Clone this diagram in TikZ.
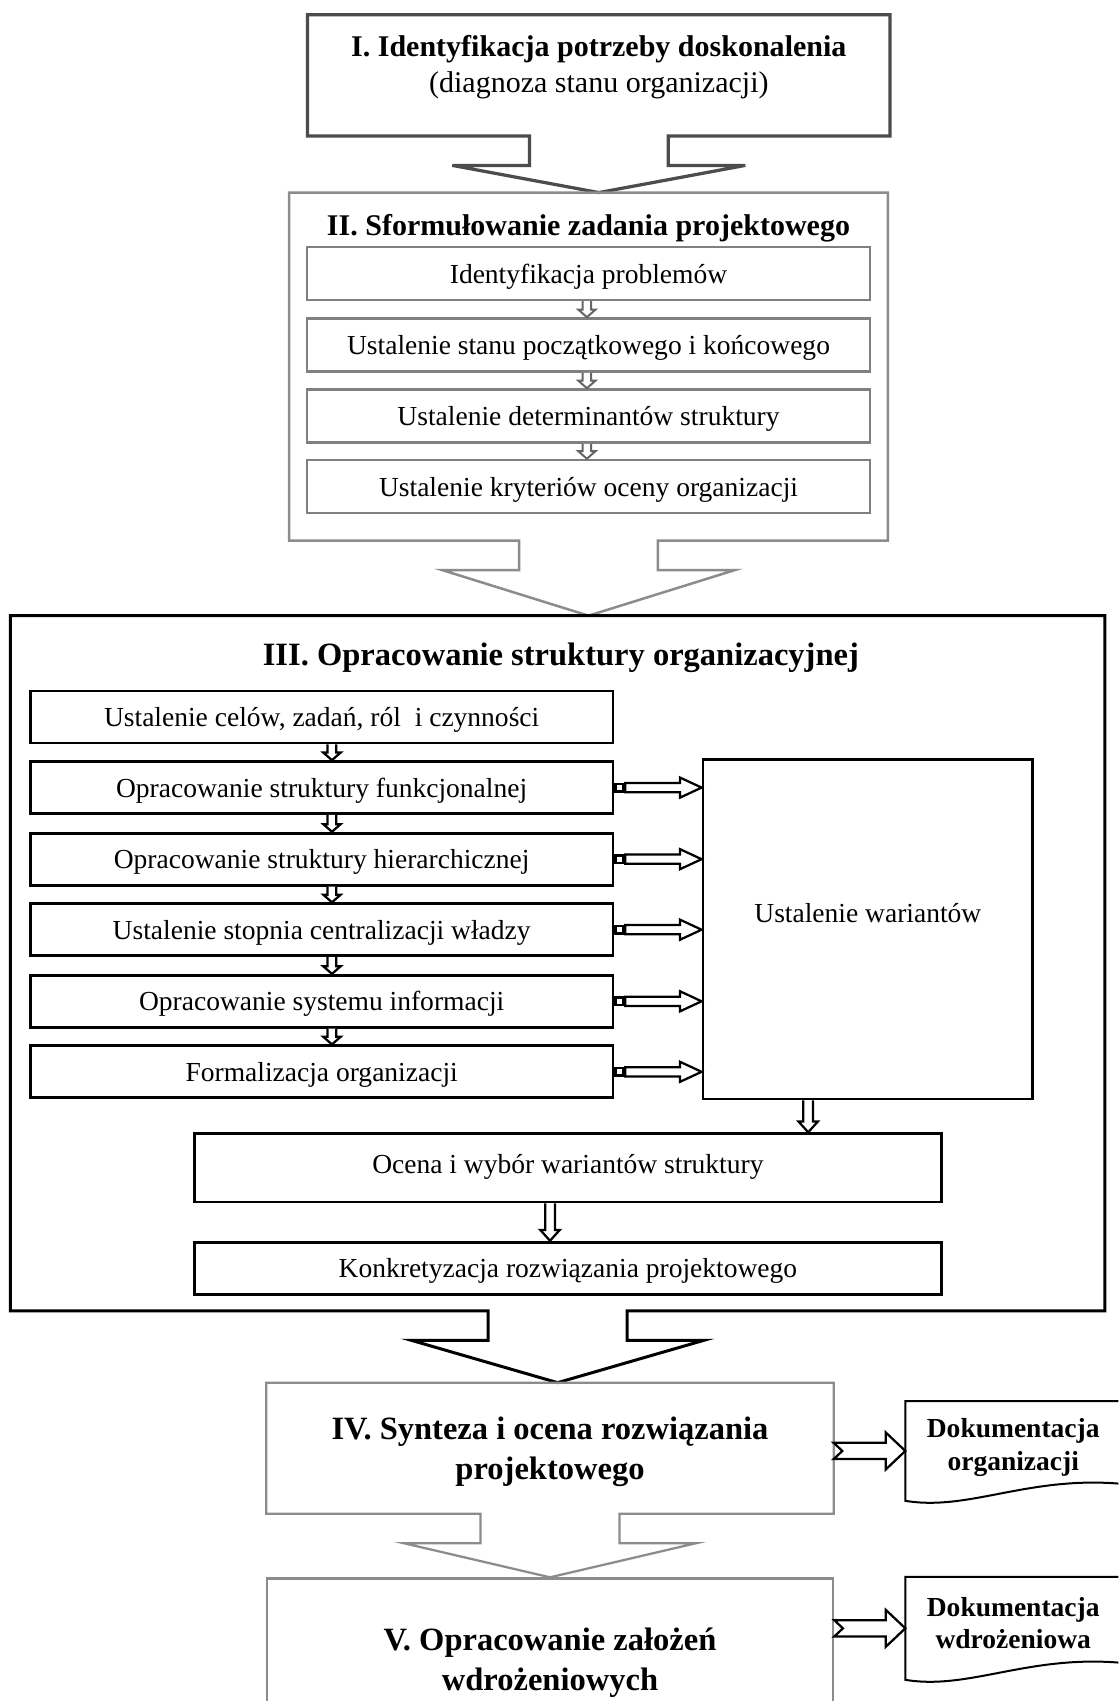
\documentclass[tikz,border=0pt]{standalone}
\usepackage{fontspec}
\setmainfont{Liberation Serif}
\usetikzlibrary{calc}

\begin{document}
\begin{tikzpicture}[x=0.4337pt, y=-0.4337pt, line join=miter,
  pole/.style={rectangle, inner sep=0pt},
  ramaI/.style={draw=black!70, line width=1.3pt},
  ramaII/.style={draw=black!45, line width=1pt},
  ramaIII/.style={draw=black, line width=1.2pt},
  ramaIV/.style={draw=black!45, line width=0.9pt},
  krok/.style={pole, draw=black!50, line width=1pt},
  etap/.style={pole, draw=black, line width=1.1pt},
  strzII/.style={draw=black!60, line width=0.8pt, fill=white},
  strz/.style={draw=black, line width=0.9pt, fill=white},
  dok/.style={draw=black, line width=0.8pt},
  tytul/.style={font=\fontsize{12}{14.3}\selectfont\bfseries},
  duzy/.style={font=\fontsize{13}{16}\selectfont\bfseries, align=center},
  opis/.style={font=\fontsize{11}{13}\selectfont, text depth=0pt},
  dokt/.style={font=\fontsize{11}{13}\selectfont\bfseries, align=center}]

  % rozmiar obrazu (1 jednostka = 1 piksel)
  \def\px{0.4337pt}
  \useasboundingbox (0,0) rectangle (1031,1568);
  \fill[white] (0,0) rectangle (1031,1568);
  \clip (0,0) rectangle (1031,1568);

  % etap I
  \node[pole, minimum width=536*\px, minimum height=111*\px] (boxI) at (552,69.5) {};
  \node[align=center, font=\fontsize{12}{14.3}\selectfont] (tekstI) at (552,62)
    {\textbf{I. Identyfikacja potrzeby doskonalenia}\\(diagnoza stanu organizacji)};

  % etap II
  \node[pole, minimum width=551*\px, minimum height=320*\px] (boxII) at (542.5,338) {};
  \node[tytul] (tekstII) at (542.5,210) {II. Sformułowanie zadania projektowego};
  \foreach \i/\y/\t in {1/252/Identyfikacja problemów,
                        2/318/Ustalenie stanu początkowego i końcowego,
                        3/383.5/Ustalenie determinantów struktury,
                        4/448.5/Ustalenie kryteriów oceny organizacji}
    \node[krok, opis, minimum width=519*\px, minimum height=49*\px] (s\i) at (542.5,\y) {\t};

  % etap III
  \node[pole, minimum width=1008*\px, minimum height=640*\px] (boxIII) at (514,888) {};
  \node[font=\fontsize{13}{15}\selectfont\bfseries] (tekstIII) at (517,606)
    {III. Opracowanie struktury organizacyjnej};
  \foreach \i/\y/\t in {1/661/{Ustalenie celów, zadań, ról\ \ i czynności},
                        2/726/Opracowanie struktury funkcjonalnej,
                        3/792/Opracowanie struktury hierarchicznej,
                        4/857/Ustalenie stopnia centralizacji władzy,
                        5/923/Opracowanie systemu informacji,
                        6/988/Formalizacja organizacji}
    \node[etap, opis, minimum width=537*\px, minimum height=48*\px] (e\i) at (296.5,\y) {\t};
  \node[etap, minimum width=304*\px, minimum height=313*\px] (war) at (800,856.5) {};
  \node[opis] (tekstwar) at (800,842) {Ustalenie wariantów};
  \node[etap, minimum width=689*\px, minimum height=63*\px] (ocena) at (523.5,1076.5) {};
  \node[opis] (tekstocena) at (523.5,1073) {Ocena i wybór wariantów struktury};
  \node[etap, opis, minimum width=689*\px, minimum height=48*\px] (konkr) at (523.5,1169)
    {Konkretyzacja rozwiązania projektowego};

  % etapy IV i V
  \node[pole, minimum width=522*\px, minimum height=120*\px] (boxIV) at (507,1335) {};
  \node[duzy] (tekstIV) at (507,1338.5) {IV. Synteza i ocena rozwiązania\\projektowego};
  \node[pole, ramaIV, minimum width=522*\px, minimum height=150*\px] (boxV) at (507,1530) {};
  \node[duzy] (tekstV) at (507,1533) {V. Opracowanie założeń\\wdrożeniowych};

  % dokumenty
  \node[pole, minimum width=205*\px, minimum height=91*\px] (d1) at (937.5,1337.5) {};
  \node[dokt] (tekstd1) at (934,1334.5) {Dokumentacja\\organizacji};
  \node[pole, minimum width=205*\px, minimum height=94*\px] (d2) at (937.5,1501) {};
  \node[dokt] (tekstd2) at (934,1496) {Dokumentacja\\wdrożeniowa};
  \foreach \d in {d1,d2}
    \draw[dok] ($(\d.south east)+(0,-15)$) -- (\d.north east) -- (\d.north west)
      -- (\d.south west) .. controls ($(\d.south west)+(60,10)$) and ($(\d.south east)+(-90,-25)$)
      .. ($(\d.south east)+(0,-15)$);

  % ramki z grubymi strzalkami w dol
  \foreach \a/\b/\st in {boxI/boxII/ramaI, boxII/boxIII/ramaII,
                         boxIII/boxIV/ramaIII, boxIV/boxV/ramaIV}
    \draw[\st] (\a.south west) -- (\a.north west) -- (\a.north east) -- (\a.south east)
      -- ($(\a.south)+(64,0)$) -- ++(0,27) -- ++(71,0) -- (\a.south |- \b.north)
      -- ($(\a.south)+(-135,27)$) -- ++(71,0) -- ++(0,-27) -- cycle;

  % male strzalki
  \coordinate (osII) at (541,0);
  \coordinate (osIII) at (306,0);
  \foreach \a/\b in {s1/s2,s2/s3,s3/s4}
    \draw[strzII] ($(\a.south -| osII)+(-4,0)$) -- ($(\b.north -| osII)+(-4,-7)$) -- ++(-4,0)
      -- (\b.north -| osII) -- ($(\b.north -| osII)+(8,-7)$) -- ++(-4,0)
      -- ($(\a.south -| osII)+(4,0)$);
  \foreach \a/\b in {e1/e2,e2/e3,e3/e4,e4/e5,e5/e6}
    \draw[strz] ($(\a.south -| osIII)+(-4,0)$) -- ($(\b.north -| osIII)+(-4,-7)$) -- ++(-4,0)
      -- (\b.north -| osIII) -- ($(\b.north -| osIII)+(8,-7)$) -- ++(-4,0)
      -- ($(\a.south -| osIII)+(4,0)$);

  \coordinate (osW) at (745,0);
  \coordinate (osO) at (507,0);
  \foreach \a/\b/\o in {war/ocena/osW, ocena/konkr/osO}
    \draw[strz] ($(\a.south -| \o)+(-4.5,0)$) -- ($(\b.north -| \o)+(-4.5,-10)$) -- ++(-4.5,0)
      -- (\b.north -| \o) -- ($(\b.north -| \o)+(9,-10)$) -- ++(-4.5,0)
      -- ($(\a.south -| \o)+(4.5,0)$);

  % strzalki do wariantow
  \foreach \i in {2,...,6} {
    \draw[strz] ($(e\i.east)+(1,-3.5)$) rectangle ($(e\i.east)+(8,3.5)$);
    \draw[strz] ($(e\i.east)+(10,-4.3)$) -- ($(e\i.east -| war.west)+(-20,-4.3)$) -- ++(0,-5)
      -- (e\i.east -| war.west) -- ($(e\i.east -| war.west)+(-20,9.3)$) -- ++(0,-5)
      -- ($(e\i.east)+(10,4.3)$) -- cycle;
  }

  % strzalki do dokumentow
  \foreach \b/\d in {boxIV/d1, boxV/d2}
    \draw[strz] ($(\d.west -| \b.east)+(0,-7.5)$) -- ($(\d.west)+(-18,-7.5)$) -- ++(0,-9.5)
      -- (\d.west) -- ($(\d.west)+(-18,17)$) -- ++(0,-9.5)
      -- ($(\d.west -| \b.east)+(0,7.5)$) -- ($(\d.west -| \b.east)+(8,0)$) -- cycle;

\end{tikzpicture}
\end{document}
